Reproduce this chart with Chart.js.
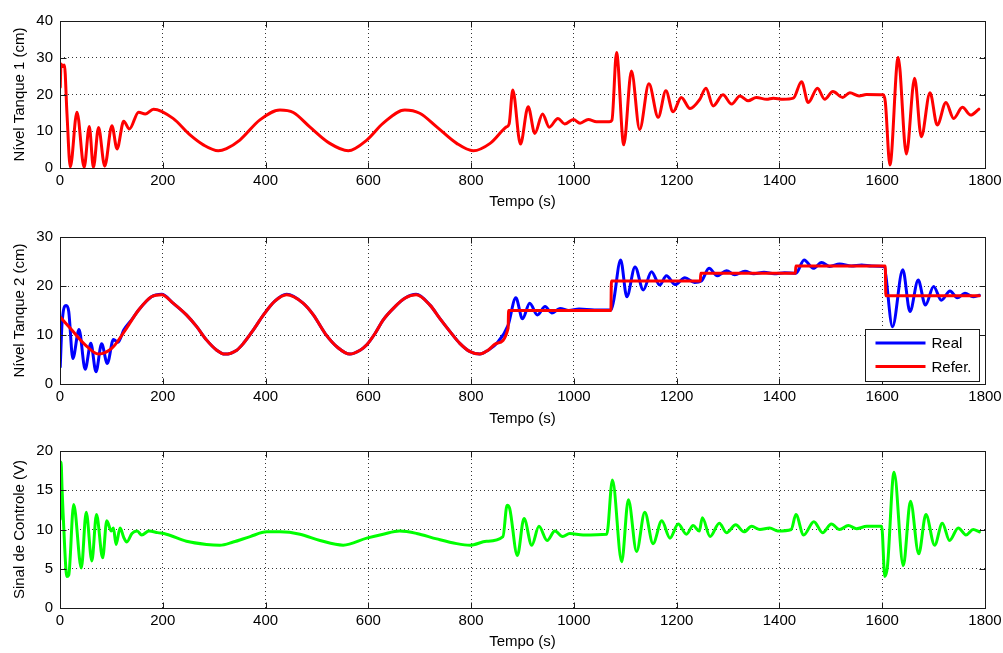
<!DOCTYPE html>
<html>
<head>
<meta charset="utf-8">
<script src="https://cdn.jsdelivr.net/npm/chart.js@4/dist/chart.umd.min.js"></script>
<style>
  body { margin: 0; background: #fff; }
  canvas { position: absolute; left: 0; }
</style>
</head>
<body>
<canvas id="tanque1" width="1003" height="218" style="top:0px"></canvas>
<canvas id="tanque2" width="1003" height="218" style="top:218px"></canvas>
<canvas id="controle" width="1003" height="217" style="top:436px"></canvas>
<script>
// Nivel do tanque 1 (cm)
const tempoN1 = [0.5, 2, 5, 8.6, 13.6, 20, 33, 47, 57, 65, 75, 87, 101, 111, 124, 135, 153, 166, 182,
  220, 253, 279, 308, 324, 350, 389, 428, 454, 486, 525, 561, 597, 629, 671, 700, 733, 772, 804, 837,
  869, 874, 881, 896, 911, 924, 939, 952, 969, 982, 999, 1012, 1028, 1044, 1069, 1074, 1083, 1097,
  1112, 1128, 1146, 1164, 1179, 1193, 1209, 1226, 1245, 1257, 1271, 1290, 1307, 1323, 1339, 1355,
  1375, 1388, 1407, 1427, 1443, 1456, 1474, 1488, 1504, 1523, 1537, 1555, 1569, 1602, 1606, 1615,
  1631, 1647, 1663, 1676, 1693, 1707, 1724, 1739, 1756, 1772, 1788];
const nivel1 = [22, 28.3, 27.6, 28.0, 14.7, 0.3, 15.2, 0.2, 11.3, 0.2, 11.0, 0.5, 11.5, 5.2, 12.7, 10.6, 15.2, 14.7, 16.0,
  13.5, 9.0, 6.3, 4.7, 5.3, 7.6, 13.1, 15.8, 15.1, 11.2, 6.7, 4.7, 7.6, 12.2, 15.8, 14.9, 11.2, 6.7, 4.7, 6.7,
  11.2, 12.0, 21.2, 6.5, 16.7, 9.4, 14.7, 11.1, 13.5, 12.0, 13.2, 12.2, 13.2, 12.6, 12.6, 13.0, 31.4, 6.3,
  26.4, 10.5, 22.9, 13.8, 21.0, 15.3, 19.2, 16.2, 18.7, 21.7, 16.9, 19.9, 17.4, 19.6, 18.3, 19.2,
  18.7, 19.0, 18.7, 19.0, 23.5, 17.8, 21.7, 18.7, 20.8, 19.2, 20.5, 19.6, 20.0, 19.9, 18.0, 0.8,
  30.1, 3.8, 24.4, 8.5, 20.5, 11.7, 17.8, 13.5, 16.5, 14.4, 16.0];

// Nivel do tanque 2 (cm): medido
const tempoN2 = [0.5, 4, 12, 17, 25, 37, 49, 60, 70, 81, 92, 104, 113, 124, 140, 153, 178, 198, 220,
  246, 266, 285, 305, 321, 344, 357, 376, 396, 418, 441, 473, 493, 516, 541, 564, 584, 597, 613, 629,
  652, 671, 693, 720, 739, 759, 778, 798, 817, 833, 850, 872, 887, 900, 914, 929, 944, 957, 973, 990,
  1010, 1040, 1072, 1077, 1091, 1103, 1119, 1135, 1151, 1167, 1180, 1197, 1216, 1235, 1248, 1263,
  1279, 1297, 1313, 1333, 1350, 1370, 1390, 1410, 1432, 1448, 1466, 1482, 1498, 1517, 1540, 1560,
  1580, 1603, 1620, 1640, 1654, 1670, 1684, 1700, 1715, 1732, 1746, 1761, 1777, 1789];
const nivel2 = [3.5, 12.4, 16.0, 14.8, 5.2, 11.1, 3.0, 8.3, 2.5, 8.2, 4.2, 9.1, 8.5, 11.0, 13.2, 15.1, 17.8, 18.3, 16.5,
  14.1, 11.7, 9.0, 6.9, 6.1, 6.9, 8.3, 11.0, 14.1, 16.9, 18.3, 16.5, 14.1, 10.3, 7.4, 6.1, 6.9, 8.0, 10.3, 13.1,
  15.8, 17.5, 18.3, 16.1, 13.4, 10.7, 8.3, 6.6, 6.1, 6.9, 8.3, 12.0, 17.6, 13.3, 16.5, 14.1, 15.8, 14.5, 15.4, 15.0,
  15.3, 15.1, 15.1, 16.8, 25.3, 17.8, 23.9, 19.2, 22.9, 20.2, 22.1, 20.3, 21.7, 20.7, 21.0, 23.6,
  22.1, 23.1, 22.3, 23.0, 22.5, 22.8, 22.5, 22.7, 22.6, 25.3, 23.6, 24.8, 24.0, 24.5, 24.1, 24.3,
  24.1, 24.0, 11.7, 23.3, 14.8, 21.2, 16.1, 19.9, 17.1, 19.0, 17.6, 18.5, 17.8, 18.1];

// Nivel do tanque 2 (cm): referencia
const tempoRef = [0, 23, 49, 75, 101, 127, 153, 178, 198, 220, 246, 266, 285, 305, 321, 344, 357, 376,
  396, 418, 441, 473, 493, 516, 541, 564, 584, 597, 613, 629, 652, 671, 693, 720, 739, 759, 778, 798,
  817, 833, 850, 872, 873, 1072, 1073, 1246, 1247, 1431, 1432, 1606, 1607, 1789];
const nivelRef = [13.7, 11.0, 8.0, 6.1, 7.3, 11.0, 15.1, 17.8, 18.2, 16.5, 14.1, 11.7, 9.0, 6.9, 6.1, 6.9, 8.3, 11.0,
  14.1, 16.9, 18.2, 16.5, 14.1, 10.3, 7.4, 6.1, 6.9, 8.0, 10.3, 13.1, 15.8, 17.5, 18.2, 16.1, 13.4, 10.7, 8.3, 6.6,
  6.1, 6.9, 8.3, 11.4, 15.0, 15.0, 21.0, 21.0, 22.6, 22.6, 24.1, 24.1, 18.0, 18.0];

// Sinal de controle (V)
const tempoSinal = [0.5, 2, 4, 6, 13.6, 17, 26.6, 41.5, 51, 62, 71, 83, 91, 100, 104, 109, 117, 124, 130,
  140, 150, 159, 173, 190, 207, 246, 285, 311, 337, 370, 402, 428, 467, 506, 551, 597, 629, 661, 694,
  733, 772, 798, 830, 862, 870, 875, 890, 903, 918, 932, 948, 963, 978, 992, 1018, 1064, 1075, 1093,
  1106, 1122, 1138, 1154, 1171, 1187, 1203, 1219, 1232, 1244, 1250, 1265, 1283, 1297, 1315, 1331,
  1346, 1362, 1381, 1397, 1423, 1432, 1447, 1467, 1484, 1501, 1517, 1534, 1550, 1570, 1599, 1605,
  1610, 1623, 1641, 1655, 1671, 1685, 1702, 1717, 1731, 1748, 1763, 1777, 1789];
const sinal = [11.3, 18.6, 15.2, 12.1, 4.0, 4.2, 13.2, 5.1, 12.2, 6.0, 11.9, 6.4, 11.1, 9.8, 10.2, 8.1, 10.2, 9.0, 8.4,
  9.5, 9.8, 9.3, 9.8, 9.6, 9.4, 8.5, 8.1, 8.0, 8.4, 9.1, 9.7, 9.7, 9.4, 8.6, 8.0, 8.9, 9.4, 9.8, 9.5,
  8.8, 8.2, 8.0, 8.5, 9.1, 13.1, 12.7, 6.7, 11.4, 8.0, 10.4, 8.6, 9.8, 9.1, 9.5, 9.3, 9.4, 16.3, 5.9,
  13.8, 7.2, 12.2, 8.2, 11.1, 8.9, 10.7, 9.4, 10.5, 9.8, 11.5, 9.1, 10.8, 9.6, 10.6, 9.7,
  10.4, 10.0, 10.2, 9.8, 10.0, 11.9, 9.3, 11.0, 9.6, 10.7, 10.0, 10.5, 10.1, 10.4, 10.4, 4.0,
  5.2, 17.3, 5.4, 13.6, 6.9, 11.9, 8.0, 10.8, 8.6, 10.2, 9.3, 10.0, 9.7];

Chart.defaults.font.family = "'Liberation Sans', Arial, sans-serif";
Chart.defaults.font.size = 15;
Chart.defaults.color = "#000";

const pontos = (ts, vs) => ts.map((t, i) => ({ x: t, y: vs[i] }));

// moldura do eixo com marcas de escala para dentro
const caixa = {
  id: "caixa",
  afterDraw(chart) {
    const { ctx, chartArea: a, scales } = chart;
    const L = Math.round(a.left) + 0.5, R = Math.round(a.right) + 0.5;
    const T = Math.round(a.top) + 0.5, B = Math.round(a.bottom) + 0.5;
    ctx.save();
    ctx.strokeStyle = "#1a1a1a";
    ctx.lineWidth = 1;
    ctx.beginPath();
    scales.x.ticks.forEach((t) => {
      const px = Math.round(scales.x.getPixelForValue(t.value)) + 0.5;
      ctx.moveTo(px, B); ctx.lineTo(px, B - 6);
      ctx.moveTo(px, T); ctx.lineTo(px, T + 6);
    });
    scales.y.ticks.forEach((t) => {
      const py = Math.round(scales.y.getPixelForValue(t.value)) + 0.5;
      ctx.moveTo(L, py); ctx.lineTo(L + 6, py);
      ctx.moveTo(R, py); ctx.lineTo(R - 6, py);
    });
    ctx.stroke();
    ctx.strokeRect(L, T, R - L, B - T);
    ctx.restore();
  },
};

// legenda no canto inferior direito
const legenda = {
  id: "legenda",
  afterDraw(chart) {
    const { ctx, chartArea: a } = chart;
    const w = 114, h = 52;
    const x0 = Math.round(a.right) - 6 - w + 0.5;
    const y0 = Math.round(a.bottom) - 3 - h + 0.5;
    ctx.save();
    ctx.fillStyle = "#fff";
    ctx.fillRect(x0, y0, w, h);
    ctx.strokeStyle = "#1a1a1a";
    ctx.lineWidth = 1;
    ctx.strokeRect(x0, y0, w, h);
    ctx.font = "15px 'Liberation Sans', Arial, sans-serif";
    ctx.textBaseline = "middle";
    ctx.fillStyle = "#000";
    chart.data.datasets.forEach((ds, i) => {
      const ly = y0 + 13.5 + i * 23.5;
      ctx.strokeStyle = ds.borderColor;
      ctx.lineWidth = ds.borderWidth;
      ctx.beginPath();
      ctx.moveTo(x0 + 10, ly);
      ctx.lineTo(x0 + 60, ly);
      ctx.stroke();
      ctx.fillText(ds.label, x0 + 66, ly + 1);
    });
    ctx.restore();
  },
};

function grafico(id, datasets, yMax, yStep, yTitulo, lay, extras) {
  return new Chart(document.getElementById(id), {
    type: "line",
    data: { datasets: datasets },
    options: {
      responsive: false,
      animation: false,
      devicePixelRatio: 1,
      layout: { padding: { top: lay.top, right: 18, left: 0, bottom: 0 } },
      elements: {
        point: { radius: 0 },
        line: { cubicInterpolationMode: "monotone", borderCapStyle: "round", borderJoinStyle: "round" },
      },
      plugins: { legend: { display: false }, tooltip: { enabled: false } },
      scales: {
        x: {
          type: "linear",
          min: 0,
          max: 1800,
          ticks: { stepSize: 200, padding: 4, maxRotation: 0, autoSkip: false, callback: (v) => String(v) },
          grid: { color: "#333", drawTicks: false },
          border: { display: false, dash: [1, 3] },
          title: { display: true, text: "Tempo (s)", font: { lineHeight: 1.2 }, padding: { top: 0, bottom: lay.tituloX } },
          afterFit: (s) => {
            s.height = lay.alturaX;
            s.paddingLeft = 0;
            s.paddingRight = 0;
          },
        },
        y: {
          min: 0,
          max: yMax,
          ticks: { stepSize: yStep, padding: 7, callback: (v) => String(v) },
          grid: { color: "#333", drawTicks: false },
          border: { display: false, dash: [1, 3] },
          title: { display: true, text: yTitulo, font: { lineHeight: 1.2 }, padding: { top: 11, bottom: 0 } },
          afterFit: (s) => {
            s.width = 60;
            s.paddingTop = 0;
            s.paddingBottom = 0;
          },
        },
      },
    },
    plugins: [caixa].concat(extras || []),
  });
}

grafico("tanque1", [
  { label: "Nível 1", data: pontos(tempoN1, nivel1), borderColor: "#ff0000", borderWidth: 3 },
], 40, 10, "Nível Tanque 1 (cm)", { top: 21, alturaX: 50, tituloX: 7 });

grafico("tanque2", [
  { label: "Real", data: pontos(tempoN2, nivel2), borderColor: "#0000ff", borderWidth: 3, order: 2 },
  { label: "Refer.", data: pontos(tempoRef, nivelRef), borderColor: "#ff0000", borderWidth: 3, order: 1 },
], 30, 10, "Nível Tanque 2 (cm)", { top: 19, alturaX: 52, tituloX: 8 }, [legenda]);

grafico("controle", [
  { label: "Sinal", data: pontos(tempoSinal, sinal), borderColor: "#00ff00", borderWidth: 3 },
], 20, 5, "Sinal de Controle (V)", { top: 15, alturaX: 45, tituloX: 2 });
</script>
</body>
</html>
